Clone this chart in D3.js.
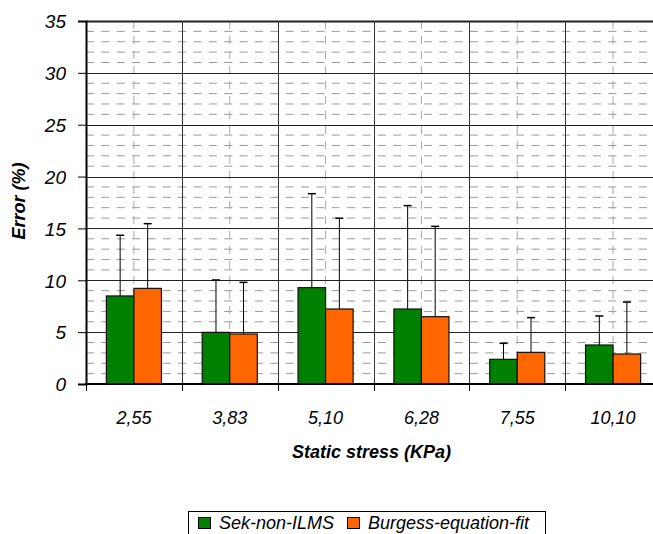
<!DOCTYPE html>
<html>
<head>
<meta charset="utf-8">
<script src="https://cdn.jsdelivr.net/npm/d3@7"></script>
<style>
  body { margin: 0; background: #fff; overflow: hidden; }
  text { font-family: Arial, "Liberation Sans", sans-serif; font-style: italic; fill: #000; }
</style>
</head>
<body>
<script>
var categories = ["2,55", "3,83", "5,10", "6,28", "7,55", "10,10"];
var seriesNames = ["Sek-non-ILMS", "Burgess-equation-fit"];
var seriesColors = ["#008000", "#ff6600"];
var sekValues = [8.49, 4.98, 9.29, 7.23, 2.38, 3.76];
var sekErrors = [5.85, 5.05, 9.06, 9.97, 1.54, 2.8];
var burgessValues = [9.22, 4.82, 7.23, 6.49, 3.05, 2.89];
var burgessErrors = [6.24, 4.98, 8.75, 8.71, 3.35, 5.01];
var yTicks = [0, 5, 10, 15, 20, 25, 30, 35];

(function(){
	var width = 653, height = 534,
		left = 86, right = 661, top = 21, bottom = 384;

	var svg = d3.select("body").append("svg")
		.attr("width", width)
		.attr("height", height);

	var x = d3.scaleBand().domain(categories).range([left, right]).padding(0);
	var xs = d3.scaleBand().domain(seriesNames).range([0, x.bandwidth()])
		.paddingInner(0).paddingOuter(0.74);
	var y = d3.scaleLinear().domain([0, 35]).range([bottom, top]);

	var rows = categories.map(function(c, i) {
		return [
			{cat: c, s: seriesNames[0], v: sekValues[i], e: sekErrors[i], color: seriesColors[0]},
			{cat: c, s: seriesNames[1], v: burgessValues[i], e: burgessErrors[i], color: seriesColors[1]}
		];
	});
	var bars = d3.merge(rows);

	var grid = svg.append("g");
	// minor dashed horizontal lines
	grid.selectAll("line.minor")
		.data(d3.range(1, 35).filter(function(v) {return v % 5 !== 0;}))
		.enter().append("line")
		.attr("x1", left).attr("x2", right)
		.attr("y1", function(d) {return y(d);})
		.attr("y2", function(d) {return y(d);})
		.attr("stroke", "#9a9a9a")
		.attr("stroke-dasharray", "8,7.36");
	// dashed verticals at category centres
	grid.selectAll("line.vmid")
		.data(categories)
		.enter().append("line")
		.attr("x1", function(d) {return x(d) + x.bandwidth() / 2;})
		.attr("x2", function(d) {return x(d) + x.bandwidth() / 2;})
		.attr("y1", top).attr("y2", bottom)
		.attr("stroke", "#a8a8a8")
		.attr("stroke-dasharray", "8,7");
	// major horizontal
	grid.selectAll("line.major")
		.data(yTicks.slice(1))
		.enter().append("line")
		.attr("x1", left).attr("x2", right)
		.attr("y1", function(d) {return Math.round(y(d)) + 0.5;})
		.attr("y2", function(d) {return Math.round(y(d)) + 0.5;})
		.attr("stroke", "#222")
		.attr("stroke-width", function(d) {return d === 35 ? 2 : 1;});
	// solid verticals at category boundaries
	grid.selectAll("line.vb")
		.data(categories.slice(1))
		.enter().append("line")
		.attr("x1", function(d) {return Math.round(x(d)) + 0.5;})
		.attr("x2", function(d) {return Math.round(x(d)) + 0.5;})
		.attr("y1", top).attr("y2", bottom)
		.attr("stroke", "#333");

	// bars
	svg.selectAll("rect.bar")
		.data(bars)
		.enter().append("rect")
		.attr("x", function(d) {return x(d.cat) + xs(d.s);})
		.attr("y", function(d) {return y(d.v);})
		.attr("width", xs.bandwidth())
		.attr("height", function(d) {return bottom - y(d.v);})
		.attr("fill", function(d) {return d.color;})
		.attr("stroke", "#111")
		.attr("stroke-width", 1.2);

	// error bars (upper only)
	var eb = svg.selectAll("g.err").data(bars).enter().append("g");
	eb.append("line")
		.attr("x1", function(d) {return x(d.cat) + xs(d.s) + xs.bandwidth() / 2;})
		.attr("x2", function(d) {return x(d.cat) + xs(d.s) + xs.bandwidth() / 2;})
		.attr("y1", function(d) {return y(d.v);})
		.attr("y2", function(d) {return y(d.v + d.e);})
		.attr("stroke", "#000");
	eb.append("line")
		.attr("x1", function(d) {return x(d.cat) + xs(d.s) + xs.bandwidth() / 2 - 4;})
		.attr("x2", function(d) {return x(d.cat) + xs(d.s) + xs.bandwidth() / 2 + 4;})
		.attr("y1", function(d) {return y(d.v + d.e);})
		.attr("y2", function(d) {return y(d.v + d.e);})
		.attr("stroke", "#000")
		.attr("stroke-width", 1.5);

	// y axis
	var yAxis = svg.append("g")
		.attr("transform", "translate(" + left + ",0)")
		.call(d3.axisLeft(y).tickValues(yTicks).tickSize(8).tickPadding(12));
	yAxis.select(".domain").attr("stroke", "#000").attr("stroke-width", 2);
	yAxis.selectAll(".tick line").attr("stroke", "#000");
	yAxis.selectAll("text").attr("font-size", 19).attr("font-family", null).attr("dy", "0.36em");

	// x axis: labels centred, ticks at boundaries
	var xAxis = svg.append("g")
		.attr("transform", "translate(0," + bottom + ")")
		.call(d3.axisBottom(x).tickSize(0).tickPadding(27));
	xAxis.select(".domain").remove();
	xAxis.selectAll("text").attr("font-size", 18).attr("font-family", null);
	svg.append("line")
		.attr("x1", left - 1).attr("x2", right)
		.attr("y1", bottom).attr("y2", bottom)
		.attr("stroke", "#000").attr("stroke-width", 2);
	svg.selectAll("line.xt")
		.data(categories.concat(["end"]))
		.enter().append("line")
		.attr("x1", function(d, i) {return Math.round(left + i * x.step()) + 0.5;})
		.attr("x2", function(d, i) {return Math.round(left + i * x.step()) + 0.5;})
		.attr("y1", bottom).attr("y2", bottom + 7)
		.attr("stroke", "#000");

	// axis titles
	svg.append("text")
		.attr("x", (left + right) / 2 - 2)
		.attr("y", 458)
		.attr("text-anchor", "middle")
		.attr("font-size", 18)
		.attr("font-weight", "bold")
		.text("Static stress (KPa)");
	svg.append("text")
		.attr("transform", "translate(25,201) rotate(-90)")
		.attr("text-anchor", "middle")
		.attr("font-size", 18)
		.attr("font-weight", "bold")
		.text("Error (%)");

	// legend
	var legend = svg.append("g");
	legend.append("rect")
		.attr("x", 188.5).attr("y", 511.5)
		.attr("width", 357).attr("height", 30)
		.attr("fill", "#fff").attr("stroke", "#000");
	var legendX = [198, 347];
	var items = legend.selectAll("g.item").data(seriesNames).enter().append("g")
		.attr("transform", function(d, i) {return "translate(" + legendX[i] + ",0)";});
	items.append("rect")
		.attr("x", 0.5).attr("y", 517.5)
		.attr("width", 12).attr("height", 11)
		.attr("fill", function(d, i) {return seriesColors[i];})
		.attr("stroke", "#000");
	items.append("text")
		.attr("x", 21).attr("y", 529)
		.attr("font-size", 18)
		.text(function(d) {return d;});
}());
</script>
</body>
</html>
